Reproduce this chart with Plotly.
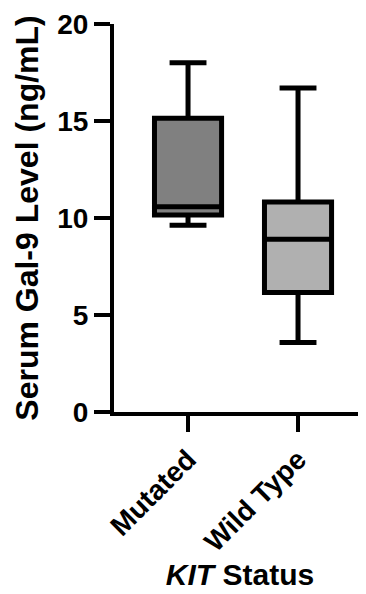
import plotly.graph_objects as go

categories = ["Mutated", "Wild Type"]
q1 = [10.15, 6.16]
median = [10.58, 8.90]
q3 = [15.14, 10.83]
lower = [9.63, 3.58]
upper = [18.0, 16.7]
fills = ["#808080", "#b0b0b0"]

y_ticks = [0, 5, 10, 15, 20]

FONT = "Liberation Sans, Arial, sans-serif"

fig = go.Figure()
for i, c in enumerate(categories):
    fig.add_trace(go.Box(
        x=[c], q1=[q1[i]], median=[median[i]], q3=[q3[i]],
        lowerfence=[lower[i]], upperfence=[upper[i]],
        fillcolor=fills[i], line=dict(color="black", width=5),
        width=0.61, whiskerwidth=0.55, boxpoints=False, showlegend=False,
        hoverinfo="skip",
    ))

fig.update_layout(
    width=366, height=594,
    margin=dict(l=106, r=8, t=16, b=190, autoexpand=False),
    plot_bgcolor="white", paper_bgcolor="white",
    font=dict(family=FONT, color="black", size=28, weight="bold"),
    showlegend=False,
)
fig.update_xaxes(
    type="category", categoryorder="array", categoryarray=categories,
    range=[-0.673, 1.618], automargin=False,
    showline=True, linecolor="black", linewidth=4,
    ticks="outside", ticklen=16, tickwidth=4, tickcolor="black",
    tickangle=-45, tickfont=dict(size=28, family=FONT, weight="bold"),
    showgrid=False, zeroline=False,
    title=dict(text="<i>KIT</i> Status", font=dict(size=30, family=FONT, weight="bold"), standoff=8),
)
fig.update_yaxes(
    range=[0, 20], tickvals=y_ticks, ticktext=[str(v) for v in y_ticks],
    automargin=False,
    showline=True, linecolor="black", linewidth=4,
    ticks="outside", ticklen=16, tickwidth=4, tickcolor="black",
    tickfont=dict(size=28, family=FONT, weight="bold"),
    showgrid=False, zeroline=False,
    title=dict(text="Serum Gal-9 Level (ng/mL)", font=dict(size=32, family=FONT, weight="bold"), standoff=10),
)

fig.write_html("out.html")
